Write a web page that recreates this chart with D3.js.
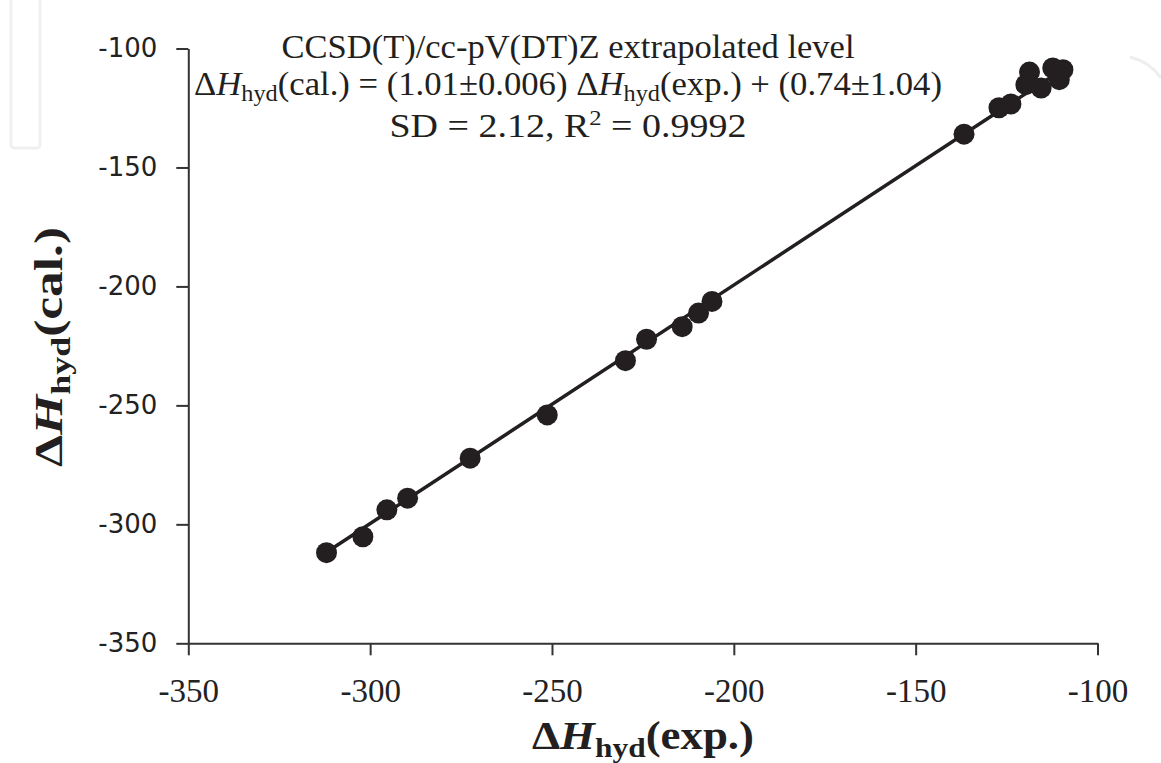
<!DOCTYPE html>
<html lang="en">
	<head>
		<meta charset="utf-8">
		<title>Hydration enthalpy: calculated vs experimental</title>
		<script src="https://d3js.org/d3.v7.min.js"></script>
		<style>
			body { margin: 0; background: #fff; }
		</style>
	</head>
	<body>
		<script type="text/javascript">

			// axis ticks
			var xTicks = [-350, -300, -250, -200, -150, -100];
			var yTicks = [-350, -300, -250, -200, -150, -100];

			// data points
			var expH = [-312.0, -302.0, -295.4, -289.7, -272.5, -251.3, -229.8, -224.0, -214.2, -209.7, -206.0,
			            -136.7, -127.1, -123.8, -119.7, -118.7, -115.5, -112.3, -110.5, -109.5];
			var calH = [-311.9, -305.2, -293.9, -289.0, -272.2, -254.0, -231.2, -222.2, -216.9, -211.2, -206.3,
			            -136.0, -124.9, -123.3, -115.2, -109.9, -116.6, -108.2, -113.1, -108.9];

			// trend line end points
			var trendExp = [-312.0, -109.5];
			var trendCal = [-311.7, -108.7];

			// annotation lines
			var noteTitle = "CCSD(T)/cc-pV(DT)Z extrapolated level";
			var noteStats = "SD = 2.12, R";

			var w = 1161;
			var h = 763;
			var padL = 188.3, padR = 1097.5, padT = 48.5, padB = 643.3;
			var ink = "#231f20";
			var serif = "'Liberation Serif', 'Times New Roman', serif";

			var xScale = d3.scaleLinear().domain([-350, -100]).range([padL, padR]);
			var yScale = d3.scaleLinear().domain([-350, -100]).range([padB, padT]);

			var svg = d3.select("body").append("svg").attr("width", w).attr("height", h);

			// faint watermark remains
			svg.append("rect").attr("x", 11).attr("y", -6).attr("width", 29).attr("height", 154).attr("rx", 3)
				.attr("fill", "none").attr("stroke", "#f0f0f0").attr("stroke-width", 3);
			svg.append("path").attr("d", "M1130,57 Q1150,62 1161,78")
				.attr("fill", "none").attr("stroke", "#eeeeee").attr("stroke-width", 3);

			// axes (plain hyphen minus, as in the original)
			var fmt = function (d) { return String(d); };
			var xAxis = d3.axisBottom(xScale).tickValues(xTicks).tickFormat(fmt).tickSize(12).tickSizeOuter(0).tickPadding(14);
			var yAxis = d3.axisLeft(yScale).tickValues(yTicks).tickFormat(fmt).tickSize(12).tickSizeOuter(0).tickPadding(19);

			var gx = svg.append("g").attr("transform", `translate(0,${padB})`).call(xAxis);
			var gy = svg.append("g").attr("transform", `translate(${padL},0)`).call(yAxis);

			[gx, gy].forEach(function (g) {
				g.select(".domain").attr("stroke", "#333").attr("stroke-width", 2);
				g.selectAll(".tick line").attr("stroke", "#333").attr("stroke-width", 2);
			});
			gx.selectAll(".tick text").attr("font-family", serif).attr("font-size", "33px")
				.attr("fill", "#222").attr("dy", "1.0em");
			gy.selectAll(".tick text").attr("font-family", "'DejaVu Sans', Verdana, sans-serif")
				.attr("font-size", "26px").attr("fill", "#222");

			// trend line
			svg.append("line")
				.attr("x1", xScale(trendExp[0])).attr("y1", yScale(trendCal[0]))
				.attr("x2", xScale(trendExp[1])).attr("y2", yScale(trendCal[1]))
				.attr("stroke", ink).attr("stroke-width", 3.5);

			// points
			svg.selectAll("circle.pt").data(expH).enter().append("circle").attr("class", "pt")
				.attr("cx", function (d) { return xScale(d); })
				.attr("cy", function (d, i) { return yScale(calH[i]); })
				.attr("r", 10.5).attr("fill", ink);

			// delta-H with subscript helper
			function deltaH(t) {
				t.append("tspan").text("\u0394");
				t.append("tspan").attr("font-style", "italic").text("H");
				t.append("tspan").attr("font-size", "0.7em").attr("dy", "0.28em").text("hyd");
			}

			// annotation
			var cx = 568;
			svg.append("text").attr("x", cx).attr("y", 58).attr("text-anchor", "middle")
				.attr("font-family", serif).attr("font-size", "33px").attr("fill", ink)
				.attr("textLength", 573).attr("lengthAdjust", "spacingAndGlyphs")
				.text(noteTitle);

			var l2 = svg.append("text").attr("x", cx).attr("y", 95).attr("text-anchor", "middle")
				.attr("font-family", serif).attr("font-size", "33px").attr("fill", ink)
				.attr("textLength", 748).attr("lengthAdjust", "spacingAndGlyphs");
			deltaH(l2);
			l2.append("tspan").attr("dy", "-0.196em").text("(cal.) = (1.01\u00b10.006) ");
			deltaH(l2);
			l2.append("tspan").attr("dy", "-0.196em").text("(exp.) + (0.74\u00b11.04)");

			var l3 = svg.append("text").attr("x", cx).attr("y", 137).attr("text-anchor", "middle")
				.attr("font-family", serif).attr("font-size", "33px").attr("fill", ink)
				.attr("textLength", 357).attr("lengthAdjust", "spacingAndGlyphs");
			l3.append("tspan").text(noteStats);
			l3.append("tspan").attr("font-size", "0.65em").attr("dy", "-0.55em").text("2");
			l3.append("tspan").attr("dy", "0.36em").text(" = 0.9992");

			// axis titles
			var xt = svg.append("text").attr("x", 643).attr("y", 749).attr("text-anchor", "middle")
				.attr("font-family", serif).attr("font-size", "40px").attr("font-weight", "bold").attr("fill", ink)
				.attr("textLength", 222).attr("lengthAdjust", "spacingAndGlyphs");
			deltaH(xt);
			xt.append("tspan").attr("dy", "-0.196em").text("(exp.)");

			var yt = svg.append("text").attr("transform", "translate(62,347) rotate(-90)").attr("text-anchor", "middle")
				.attr("font-family", serif).attr("font-size", "40px").attr("font-weight", "bold").attr("fill", ink)
				.attr("textLength", 240).attr("lengthAdjust", "spacingAndGlyphs");
			deltaH(yt);
			yt.append("tspan").attr("dy", "-0.196em").text("(cal.)");

		</script>
	</body>
</html>
